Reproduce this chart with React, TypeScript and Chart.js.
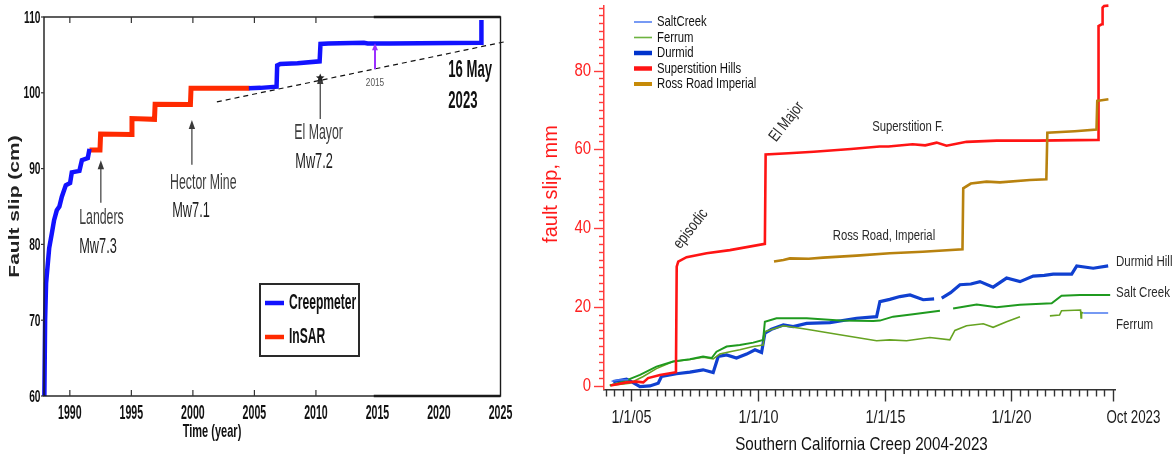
import React, { useEffect, useRef } from 'react';
import { Chart, registerables } from 'chart.js';

Chart.register(...registerables);

// ===================== LEFT CHART DATA =====================
const creepYears = [1987.93, 1987.99, 1988.07, 1988.32, 1988.54, 1988.72, 1988.94, 1989.15, 1989.35, 1989.67, 1990.02, 1990.16, 1990.78, 1990.98, 1991.46, 1991.6, 1998.0, 2004.55, 2005.5, 2006.8, 2006.85, 2007.1, 2008.5, 2010.3, 2010.37, 2011.0, 2013.9, 2014.2, 2016.0, 2023.42, 2023.45];
const creepSlip = [60, 70, 74.9, 79.5, 81.5, 83.2, 84.5, 85.0, 86.3, 87.8, 88.1, 89.5, 89.7, 91.1, 91.4, 92.6, null, 100.6, 100.65, 100.8, 103.6, 103.8, 103.9, 104.15, 106.45, 106.5, 106.6, 106.5, 106.5, 106.6, 109.6];
const insarYears = [1991.6, 1992.45, 1992.5, 1995.0, 1995.05, 1996.88, 1996.93, 1999.8, 1999.85, 2004.6];
const insarSlip = [92.45, 92.45, 94.55, 94.5, 96.6, 96.5, 98.5, 98.45, 100.6, 100.6];
const trendYears = [2001.95, 2025.4];
const trendSlip = [98.8, 106.75];
const leftXTicks = [1990, 1995, 2000, 2005, 2010, 2015, 2020, 2025];
const leftYTicks = [60, 70, 80, 90, 100, 110];
const quakeYears = [1992.52, 1999.92, 2010.35];
const quakeArrowFrom = [85.5, 90.5, 96.55];
const quakeArrowTo = [91.1, 96.4, 102.35];
const quakeNames = ['Landers', 'Hector Mine', 'El Mayor'];
const quakeNameX = [1990.76, 1998.15, 2008.24];
const quakeNameY = [83.5, 88.1, 94.7];
const quakeMags = ['Mw7.3', 'Mw7.1', 'Mw7.2'];
const quakeMagX = [1990.76, 1998.32, 2008.32];
const quakeMagY = [79.7, 84.4, 90.9];
const markYear = 2014.8;
const markFrom = 103.1;
const markTo = 106.55;
const markLabel = '2015';
const dateLines = ['16 May', '2023'];
const dateX = 2020.76;
const dateY = [102.88, 98.79];
const leftXTitle = 'Time (year)';
const leftYTitle = 'Fault slip (cm)';

// ===================== RIGHT CHART DATA =====================
const superYears = [2004.18, 2004.81, 2005.2, 2005.47, 2005.66, 2006.13, 2006.76, 2006.79, 2006.85, 2007.18, 2007.97, 2008.89, 2010.27, 2010.3, 2011.2, 2012.2, 2013.67, 2014.8, 2015.15, 2016.1, 2016.6, 2017.05, 2017.44, 2018.23, 2019.42, 2021.0, 2023.42, 2023.44, 2023.58, 2023.6, 2023.66, 2023.83];
const superSlip = [0, 0.8, 1.0, 0.8, 1.9, 2.7, 3.4, 30.2, 31.5, 32.6, 33.6, 34.4, 36.0, 58.7, 59.0, 59.4, 60.1, 60.7, 60.7, 61.3, 61.0, 61.7, 60.9, 61.9, 62.2, 62.2, 62.4, 91.3, 91.8, 96.0, 96.4, 96.5];
const rossYears = [2010.63, 2011.0, 2011.26, 2012.0, 2012.57, 2013.89, 2015.2, 2016.5, 2018.07, 2018.1, 2018.4, 2019.02, 2019.55, 2020.73, 2021.38, 2021.42, 2022.5, 2023.36, 2023.39, 2023.5, 2023.83];
const rossSlip = [31.5, 31.9, 32.3, 32.2, 32.5, 33.0, 33.6, 34.0, 34.6, 50.1, 51.3, 51.8, 51.6, 52.2, 52.4, 64.2, 64.6, 65.0, 72.3, 72.4, 72.7];
const durmidYears = [2004.28, 2004.81, 2005.0, 2005.34, 2005.73, 2006.06, 2006.19, 2006.78, 2007.31, 2007.83, 2008.23, 2008.43, 2008.76, 2009.15, 2009.55, 2009.88, 2010.14, 2010.27, 2010.53, 2011.0, 2011.39, 2011.92, 2012.84, 2013.89, 2014.68, 2014.81, 2015.2, 2015.6, 2016.0, 2016.52, 2016.95, 2017.1, 2017.25, 2017.6, 2017.97, 2018.4, 2018.76, 2019.28, 2019.81, 2020.34, 2020.86, 2021.3, 2021.65, 2022.38, 2022.58, 2023.23, 2023.82];
const durmidSlip = [1.0, 1.6, 1.0, -0.25, -0.1, 0.6, 2.3, 3.0, 3.4, 4.0, 3.3, 7.4, 7.8, 7.0, 8.0, 9.1, 8.4, 13.3, 14.3, 15.4, 15.0, 15.8, 16.0, 17.1, 17.5, 21.3, 21.9, 22.6, 23.0, 21.8, 22.0, null, 22.2, 23.6, 25.6, 25.8, 26.4, 25.0, 27.3, 26.4, 27.8, 28.0, 28.3, 28.3, 30.4, 29.8, 30.4];
const saltGreenYears = [2004.15, 2004.68, 2005.34, 2005.99, 2006.65, 2007.31, 2007.83, 2008.17, 2008.36, 2008.76, 2009.28, 2009.81, 2010.2, 2010.27, 2010.73, 2011.92, 2013.23, 2014.55, 2014.81, 2015.33, 2016.12, 2017.18, 2017.45, 2017.7, 2018.63, 2019.42, 2020.34, 2021.59, 2021.98, 2022.71, 2023.9];
const saltGreenSlip = [0, 1.0, 2.7, 4.8, 6.1, 6.7, 7.4, 7.0, 8.6, 9.9, 10.3, 10.9, 11.6, 16.2, 17.1, 17.1, 16.5, 16.4, 16.5, 17.5, 18.1, 19.0, null, 19.6, 20.6, 19.9, 20.5, 20.9, 22.8, 23.0, 23.0];
const ferrumYears = [2004.15, 2004.94, 2005.47, 2005.99, 2006.65, 2007.31, 2007.83, 2008.23, 2008.49, 2008.89, 2009.28, 2009.81, 2010.2, 2010.27, 2011.0, 2011.92, 2013.23, 2014.68, 2015.2, 2015.86, 2016.78, 2017.57, 2017.77, 2018.23, 2018.89, 2019.28, 2019.81, 2020.34, 2020.9, 2021.52, 2021.9, 2021.98, 2022.73, 2022.75, 2022.77, 2022.84];
const ferrumSlip = [0, 0.6, 2.3, 4.3, 6.1, 6.6, 7.2, 6.8, 8.0, 8.6, 9.1, 9.9, 10.3, 13.7, 15.2, 14.3, 12.9, 11.4, 11.6, 11.4, 12.2, 11.6, 14.0, 15.2, 15.7, 14.8, 16.2, 17.5, null, 17.7, 17.9, 19.0, 19.2, 17.2, 18.6, 18.4];
const saltBlueYears = [2004.22, 2004.5, 2004.88, 2012.0, 2022.84, 2023.82];
const saltBlueSlip = [1.1, 1.4, 1.5, null, 18.4, 18.4];

const rightXMajorYears = [2005, 2010, 2015, 2020];
const rightXMajorLabels = ['1/1/05', '1/1/10', '1/1/15', '1/1/20'];
const rightEndYear = 2023.75;
const rightEndLabel = 'Oct 2023';
const rightYLabelStep = 20;
const rightXTitle = 'Southern California Creep 2004-2023';
const rightYTitle = 'fault slip, mm';
const legendOrder = ['SaltCreek', 'Ferrum', 'Durmid', 'Superstition Hills', 'Ross Road Imperial'];
const annText = ['episodic', 'El Major', 'Superstition F.', 'Ross Road, Imperial'];
const annYear = [2007.35, 2011.13, 2015.92, 2014.97];
const annSlip = [39.8, 67.0, 65.7, 38.1];
const annAngle = [-52, -52, 0, 0];
const siteText = ['Durmid Hill', 'Salt Creek', 'Ferrum'];
const siteSlip = [31.5, 23.5, 15.4];

// ===================== HELPERS =====================
const LFONT = "'Liberation Sans', Arial, sans-serif";

const pts = (xs: number[], ys: (number | null)[]) => xs.map((x, i) => ({ x, y: ys[i] }));

function drawText(ctx: CanvasRenderingContext2D, txt: string, x: number, y: number, font: string, color: string, sx = 1, align: CanvasTextAlign = 'left', rot = 0) {
  ctx.save();
  ctx.translate(x, y);
  if (rot) ctx.rotate(rot);
  ctx.scale(sx, 1);
  ctx.font = font;
  ctx.fillStyle = color;
  ctx.textAlign = align;
  ctx.textBaseline = 'middle';
  ctx.fillText(txt, 0, 0);
  ctx.restore();
}

function seg(ctx: CanvasRenderingContext2D, x1: number, y1: number, x2: number, y2: number) {
  ctx.beginPath();
  ctx.moveTo(x1, y1);
  ctx.lineTo(x2, y2);
  ctx.stroke();
}

function upArrow(ctx: CanvasRenderingContext2D, x: number, yFrom: number, yTo: number, color: string, w: number, hl: number, hw: number) {
  ctx.save();
  ctx.strokeStyle = color;
  ctx.fillStyle = color;
  ctx.lineWidth = w;
  seg(ctx, x, yFrom, x, yTo + hl * 0.7);
  ctx.beginPath();
  ctx.moveTo(x, yTo);
  ctx.lineTo(x - hw, yTo + hl);
  ctx.lineTo(x + hw, yTo + hl);
  ctx.closePath();
  ctx.fill();
  ctx.restore();
}

function star(ctx: CanvasRenderingContext2D, cx: number, cy: number, r: number, color: string) {
  ctx.save();
  ctx.fillStyle = color;
  ctx.beginPath();
  for (let i = 0; i < 10; i++) {
    const rr = i % 2 === 0 ? r : r * 0.45;
    const a = -Math.PI / 2 + (i * Math.PI) / 5;
    const px = cx + rr * Math.cos(a);
    const py = cy + rr * Math.sin(a);
    if (i === 0) ctx.moveTo(px, py); else ctx.lineTo(px, py);
  }
  ctx.closePath();
  ctx.fill();
  ctx.restore();
}

// ===================== LEFT PLUGIN =====================
const leftDecor = {
  id: 'leftDecor',
  afterDraw(chart: any) {
    const { ctx, chartArea: ca, scales } = chart;
    const xs = scales.x;
    const ys = scales.y;
    ctx.save();
    ctx.strokeStyle = '#1a1a1a';
    ctx.lineWidth = 1.4;
    ctx.strokeRect(ca.left, ca.top, ca.right - ca.left, ca.bottom - ca.top);
    const thickFrom = xs.getPixelForValue(2014.7);
    ctx.lineWidth = 2.6;
    seg(ctx, thickFrom, ca.top, ca.right, ca.top);
    seg(ctx, thickFrom, ca.bottom, ca.right, ca.bottom);
    ctx.lineWidth = 1.2;
    ctx.strokeStyle = '#333';
    xs.ticks.forEach((t: any) => {
      if (t.value > 2012) return;
      const px = xs.getPixelForValue(t.value);
      seg(ctx, px, ca.top, px, ca.top + 6);
      seg(ctx, px, ca.bottom, px, ca.bottom - 6);
    });
    ys.ticks.forEach((t: any) => {
      const py = ys.getPixelForValue(t.value);
      seg(ctx, ca.left - 3, py, ca.left, py);
    });
    xs.ticks.forEach((t: any) => {
      const px = xs.getPixelForValue(t.value);
      drawText(ctx, String(t.value), px, ca.bottom + 17, `bold 20px ${LFONT}`, '#111', 0.53, 'center');
    });
    ys.ticks.forEach((t: any) => {
      const py = ys.getPixelForValue(t.value);
      drawText(ctx, String(t.value), ca.left - 3.5, py + 1, `bold 17px ${LFONT}`, '#111', 0.6, 'right');
    });
    drawText(ctx, leftXTitle, ca.left + 168, ca.bottom + 36, `bold 19px ${LFONT}`, '#111', 0.58, 'center');
    drawText(ctx, leftYTitle, 15, (ca.top + ca.bottom) / 2, `bold 14px ${LFONT}`, '#222', 1.5, 'center', -Math.PI / 2);

    quakeYears.forEach((yr, i) => {
      const px = xs.getPixelForValue(yr);
      upArrow(ctx, px, ys.getPixelForValue(quakeArrowFrom[i]), ys.getPixelForValue(quakeArrowTo[i]), '#3a3a3a', 1.2, 9, 3.2);
      drawText(ctx, quakeNames[i], xs.getPixelForValue(quakeNameX[i]), ys.getPixelForValue(quakeNameY[i]), `22px ${LFONT}`, '#3c3c3c', 0.56, 'left');
      drawText(ctx, quakeMags[i], xs.getPixelForValue(quakeMagX[i]), ys.getPixelForValue(quakeMagY[i]), `22px ${LFONT}`, '#1e1e1e', 0.58, 'left');
    });
    star(ctx, xs.getPixelForValue(quakeYears[2]), ys.getPixelForValue(quakeArrowTo[2]) + 3, 4.5, '#222');
    upArrow(ctx, xs.getPixelForValue(markYear), ys.getPixelForValue(markFrom), ys.getPixelForValue(markTo), '#9b30ff', 2, 7, 3);
    drawText(ctx, markLabel, xs.getPixelForValue(markYear), ys.getPixelForValue(markFrom) + 14, `11px ${LFONT}`, '#555', 0.75, 'center');
    dateLines.forEach((s, i) => {
      drawText(ctx, s, xs.getPixelForValue(dateX), ys.getPixelForValue(dateY[i]), `bold 23px ${LFONT}`, '#111', 0.57, 'left');
    });
    const lx = ca.left + 216;
    const ly = ca.top + 267;
    ctx.fillStyle = '#fff';
    ctx.fillRect(lx, ly, 99, 72);
    ctx.strokeStyle = '#2a2a2a';
    ctx.lineWidth = 2;
    ctx.strokeRect(lx, ly, 99, 72);
    chart.data.datasets.slice(0, 2).forEach((d: any, i: number) => {
      const yy = ly + 19 + i * 34;
      ctx.strokeStyle = d.borderColor;
      ctx.lineWidth = 4.5;
      seg(ctx, lx + 5, yy, lx + 24, yy);
      drawText(ctx, d.label, lx + 29, yy, `bold 22px ${LFONT}`, '#111', 0.55, 'left');
    });
    ctx.restore();
  },
};

// ===================== RIGHT PLUGIN =====================
const isMajorX = (v: number) => rightXMajorYears.some((m) => Math.abs(m - v) < 1e-6);

const rightDecor = {
  id: 'rightDecor',
  afterDraw(chart: any) {
    const { ctx, chartArea: ca, scales } = chart;
    const xs = scales.x;
    const ys = scales.y;
    ctx.save();
    ctx.strokeStyle = '#333';
    ctx.lineWidth = 1.4;
    xs.ticks.forEach((t: any, i: number) => {
      const px = Math.round(xs.getPixelForValue(t.value)) + 0.5;
      const major = isMajorX(t.value) || i === xs.ticks.length - 1;
      seg(ctx, px, ca.bottom, px, ca.bottom + (major ? 12 : 7));
      const j = rightXMajorYears.findIndex((m) => Math.abs(m - t.value) < 1e-6);
      if (j >= 0) drawText(ctx, rightXMajorLabels[j], px, ca.bottom + 29, `18px ${LFONT}`, '#1a1a1a', 0.8, 'center');
    });
    ctx.strokeStyle = '#ff3b3b';
    ys.ticks.forEach((t: any) => {
      const py = Math.round(ys.getPixelForValue(t.value)) + 0.5;
      const major = t.value % rightYLabelStep === 0;
      seg(ctx, ca.left - (major ? 10 : 5), py, ca.left, py);
      if (major) drawText(ctx, String(t.value), ca.left - 13, py, `18px ${LFONT}`, '#ff2020', 0.83, 'right');
    });
    drawText(ctx, rightEndLabel, xs.getPixelForValue(rightEndYear), ca.bottom + 29, `18px ${LFONT}`, '#1a1a1a', 0.74, 'left');
    drawText(ctx, rightXTitle, (ca.left + ca.right) / 2 + 2, ca.bottom + 55.5, `19px ${LFONT}`, '#111', 0.8, 'center');
    drawText(ctx, rightYTitle, 21, 184, `20px ${LFONT}`, '#ff1a1a', 1, 'center', -Math.PI / 2);
    legendOrder.forEach((name, i) => {
      const d = chart.data.datasets.find((ds: any) => ds.label === name);
      if (!d) return;
      const yy = ca.top + 16 + i * 15.5;
      ctx.strokeStyle = d.legendColor || d.borderColor;
      ctx.lineWidth = d.legendWidth || d.borderWidth;
      seg(ctx, ca.left + 30, yy, ca.left + 48, yy);
      drawText(ctx, name, ca.left + 53, yy, `14.5px ${LFONT}`, '#111', 0.78, 'left');
    });
    annText.forEach((s, i) => {
      drawText(ctx, s, xs.getPixelForValue(annYear[i]), ys.getPixelForValue(annSlip[i]), `${annAngle[i] ? 16 : 14.5}px ${LFONT}`, '#2a2a2a', 0.78, 'center', (annAngle[i] * Math.PI) / 180);
    });
    siteText.forEach((s, i) => {
      drawText(ctx, s, ca.right + 1, ys.getPixelForValue(siteSlip[i]), `15px ${LFONT}`, '#2a2a2a', 0.77, 'left');
    });
    ctx.restore();
  },
};

// ===================== CONFIGS =====================
function leftConfig(): any {
  return {
    type: 'line',
    data: {
      datasets: [
        { label: 'Creepmeter', data: pts(creepYears, creepSlip), borderColor: '#1212ff', borderWidth: 4.5, pointRadius: 0, tension: 0, spanGaps: false, clip: 8 },
        { label: 'InSAR', data: pts(insarYears, insarSlip), borderColor: '#ff2a00', borderWidth: 5, pointRadius: 0, tension: 0, clip: 8 },
        { label: 'trend', data: pts(trendYears, trendSlip), borderColor: '#111', borderWidth: 1.2, borderDash: [5, 4], pointRadius: 0, tension: 0, clip: false },
      ],
    },
    options: {
      responsive: false,
      animation: false,
      events: [],
      layout: { padding: { left: 0, top: 17, right: 29.5, bottom: 0 } },
      plugins: { legend: { display: false }, tooltip: { enabled: false }, title: { display: false } },
      scales: {
        x: {
          type: 'linear', min: 1987.9, max: 2025,
          afterBuildTicks: (s: any) => { s.ticks = leftXTicks.map((v) => ({ value: v })); },
          afterFit: (s: any) => { s.height = 60; s.paddingLeft = 0; s.paddingRight = 0; },
          ticks: { display: false },
          grid: { display: false, drawTicks: false },
          border: { display: false },
        },
        y: {
          type: 'linear', min: 60, max: 110,
          afterBuildTicks: (s: any) => { s.ticks = leftYTicks.map((v) => ({ value: v })); },
          afterFit: (s: any) => { s.width = 44; s.paddingTop = 0; s.paddingBottom = 0; },
          ticks: { display: false },
          grid: { display: false, drawTicks: false },
          border: { display: false },
        },
      },
    },
    plugins: [leftDecor],
  };
}

function rightConfig(): any {
  const common = { pointRadius: 0, tension: 0, spanGaps: false, clip: 5 };
  return {
    type: 'line',
    data: {
      datasets: [
        { label: 'Ross Road Imperial', data: pts(rossYears, rossSlip), borderColor: '#b8820f', legendColor: '#c68a08', borderWidth: 2.6, legendWidth: 4, ...common },
        { label: 'Superstition Hills', data: pts(superYears, superSlip), borderColor: '#ff1414', borderWidth: 2.6, legendWidth: 4.5, ...common },
        { label: 'SaltCreek', data: pts(saltBlueYears, saltBlueSlip), borderColor: '#4a78f0', borderWidth: 1.5, ...common },
        { label: 'Salt Creek', data: pts(saltGreenYears, saltGreenSlip), borderColor: '#1f9a1f', borderWidth: 2, ...common },
        { label: 'Ferrum', data: pts(ferrumYears, ferrumSlip), borderColor: '#66a322', legendColor: '#6db33f', borderWidth: 1.6, legendWidth: 1.6, ...common },
        { label: 'Durmid', data: pts(durmidYears, durmidSlip), borderColor: '#1040d0', legendColor: '#0033cc', borderWidth: 3.2, legendWidth: 4.5, ...common },
      ],
    },
    options: {
      responsive: false,
      animation: false,
      events: [],
      layout: { padding: { left: 0, top: 6, right: 60, bottom: 0 } },
      plugins: { legend: { display: false }, tooltip: { enabled: false }, title: { display: false } },
      scales: {
        x: {
          type: 'linear', min: 2003.92, max: 2024.09,
          afterBuildTicks: (s: any) => {
            const t: any[] = [];
            for (let k = 0; k <= 60; k++) t.push({ value: 2004 + k / 3 });
            s.ticks = t;
          },
          afterFit: (s: any) => { s.height = 66.5; s.paddingLeft = 0; s.paddingRight = 0; },
          ticks: { display: false },
          grid: { display: false, drawTicks: false },
          border: { display: true, color: '#333', width: 1.5 },
        },
        y: {
          type: 'linear', min: -1, max: 96.4,
          afterBuildTicks: (s: any) => {
            const t: any[] = [];
            for (let v = 0; v <= 96; v += 2) t.push({ value: v });
            s.ticks = t;
          },
          afterFit: (s: any) => { s.width = 74; s.paddingTop = 0; s.paddingBottom = 0; },
          ticks: { display: false },
          grid: { display: false, drawTicks: false },
          border: { display: true, color: '#ff3b3b', width: 1.5 },
        },
      },
    },
    plugins: [rightDecor],
  };
}

export default function App() {
  const leftRef = useRef<HTMLCanvasElement>(null);
  const rightRef = useRef<HTMLCanvasElement>(null);
  useEffect(() => {
    const c1 = new Chart(leftRef.current as HTMLCanvasElement, leftConfig());
    const c2 = new Chart(rightRef.current as HTMLCanvasElement, rightConfig());
    return () => {
      c1.destroy();
      c2.destroy();
    };
  }, []);
  return (
    <div style={{ position: 'absolute', left: 0, top: 0, width: 1175, height: 456, background: '#fff', overflow: 'hidden' }}>
      <canvas ref={leftRef} width={530} height={456} style={{ position: 'absolute', left: 0, top: 0, width: 530, height: 456 }} />
      <canvas ref={rightRef} width={645} height={456} style={{ position: 'absolute', left: 530, top: 0, width: 645, height: 456 }} />
    </div>
  );
}
